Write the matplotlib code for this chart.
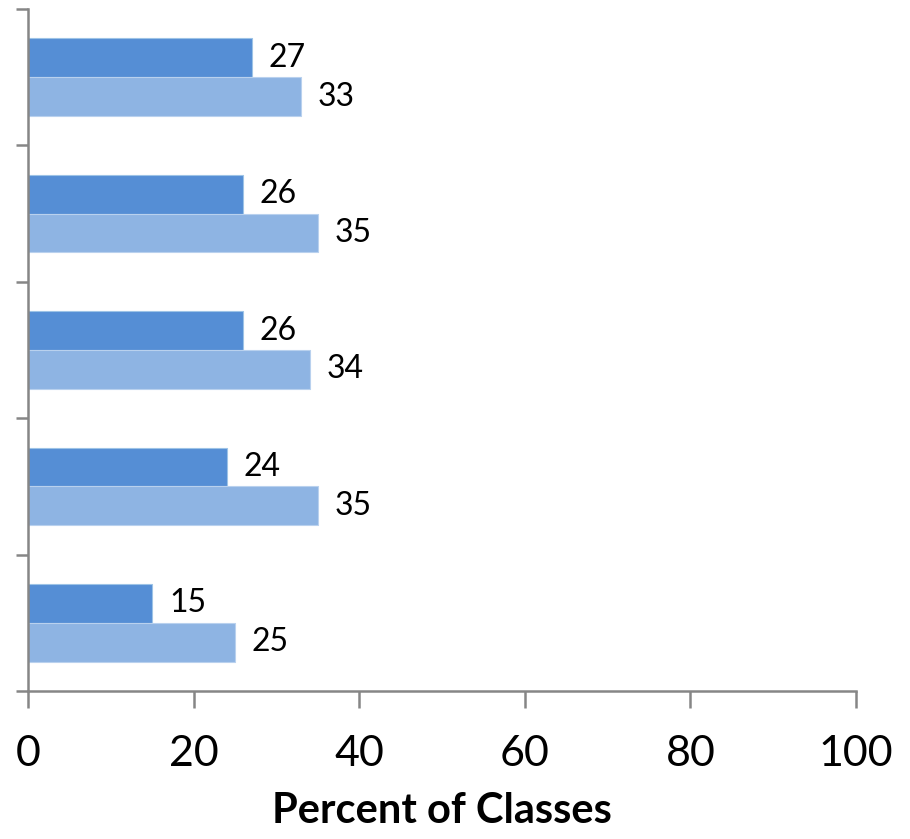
import numpy as np
import matplotlib.pyplot as plt

# groups listed bottom to top
dark_vals = [15, 24, 26, 26, 27]
light_vals = [25, 35, 34, 35, 33]
xticks = [0, 20, 40, 60, 80, 100]

plt.rcParams['font.family'] = ['Lato', 'DejaVu Sans']

fig = plt.figure(figsize=(9.1, 8.39), dpi=100)
ax = fig.add_axes([0.0308, 0.1764, 0.9099, 0.8129])

y = np.arange(len(dark_vals))
h = 0.285
dark = ax.barh(y + h / 2, dark_vals, height=h, color="#558ED5",
               edgecolor="#9DC3E6", linewidth=0.8)
light = ax.barh(y - h / 2, light_vals, height=h, color="#8EB4E3",
                edgecolor="#B9D1EE", linewidth=0.8)

for bars, vals in ((dark, dark_vals), (light, light_vals)):
    for b, v in zip(bars, vals):
        ax.annotate(str(v), (v, b.get_y() + b.get_height() / 2),
                    xytext=(12, 0), textcoords="offset points",
                    ha="left", va="center", fontsize=23)

ax.set_xlim(0, 100)
ax.set_ylim(-0.5, len(dark_vals) - 0.5)
ax.set_xticks(xticks)
ax.set_xticklabels([str(t) for t in xticks], fontsize=31)
ax.set_yticks(np.arange(len(dark_vals) + 1) - 0.5)
ax.set_yticklabels([])

for side in ("top", "right"):
    ax.spines[side].set_visible(False)
for side in ("left", "bottom"):
    ax.spines[side].set_color("#868686")
    ax.spines[side].set_linewidth(1.8)
ax.tick_params(axis="x", length=12, width=1.8, color="#868686", pad=20)
ax.tick_params(axis="y", length=9, width=1.8, color="#868686")

ax.set_xlabel("Percent of Classes", fontsize=30, fontweight="bold",
              labelpad=13)

fig.savefig("out.png", dpi=100)
